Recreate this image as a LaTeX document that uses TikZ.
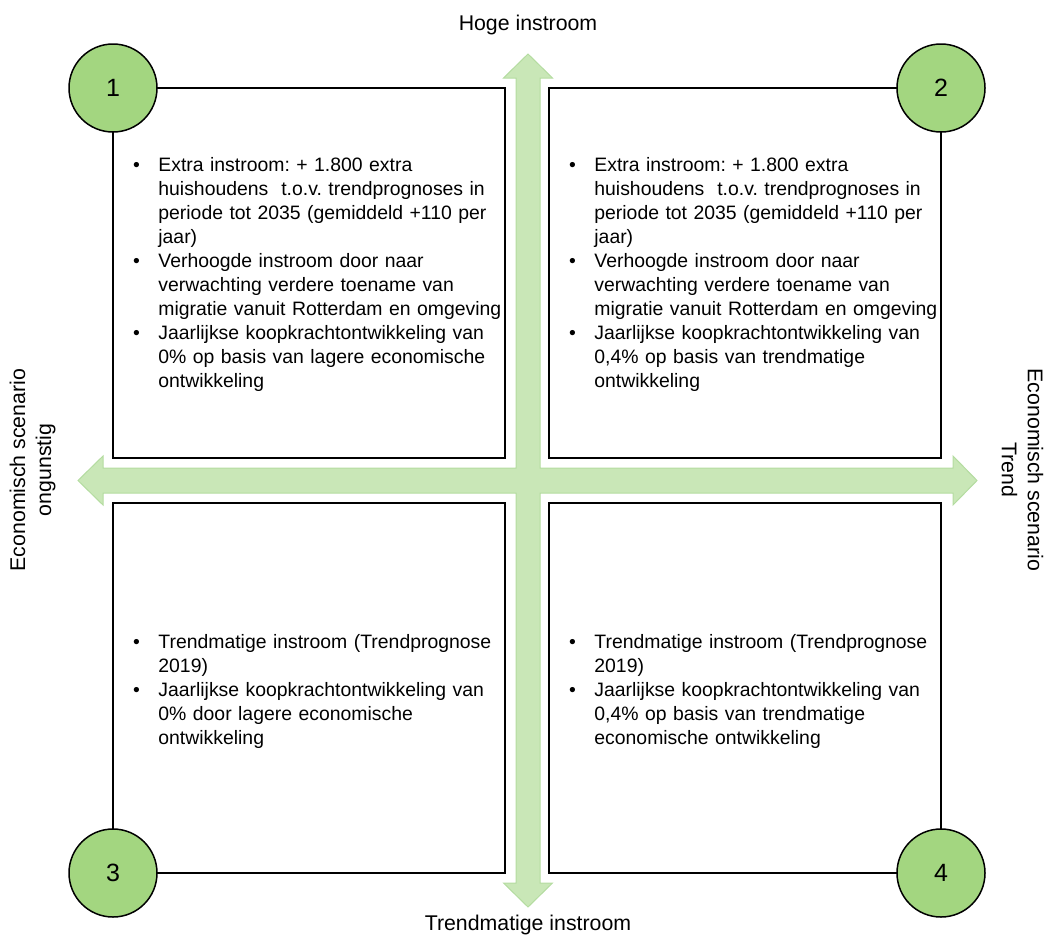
\documentclass[tikz,border=0pt]{standalone}
\usepackage{fontspec}
\setmainfont{Liberation Sans}
\usetikzlibrary{positioning}
\definecolor{crossfill}{HTML}{C9E7B7}
\definecolor{crossline}{HTML}{B4DCA0}
\definecolor{numfill}{HTML}{A3D680}
\newcommand{\bul}{\leavevmode\llap{\textbullet\hspace{18.5pt}}}
\frenchspacing

\begin{document}
\begin{tikzpicture}[x=1pt,y=-1pt,thick]
\tikzstyle{quad} = [draw,fill=white,shape=rectangle,line width=1.5pt,minimum width=392pt,minimum height=370pt,inner sep=0pt,outer sep=0pt]
\tikzstyle{num} = [draw,fill=numfill,shape=circle,line width=1.5pt,minimum size=88pt,inner sep=0pt,font=\fontsize{25}{30}\selectfont]
\tikzstyle{txt} = [anchor=base west,text width=390pt,align=left,inner sep=0pt,font=\fontsize{19.4}{24}\selectfont]
\tikzstyle{axis} = [font=\fontsize{21.3}{26}\selectfont,align=center,inner sep=0pt]
\useasboundingbox (0,0) rectangle (1046,935);

% the cross of block arrows
\filldraw[fill=crossfill,draw=crossline,line width=1pt]
  (528,54) -- (552.5,78) -- (540,78) -- (540,468) -- (953,468) -- (953,456)
  -- (977,480.5) -- (953,505) -- (953,493) -- (540,493) -- (540,883)
  -- (552.5,883) -- (528,907) -- (503.5,883) -- (516,883) -- (516,493)
  -- (103,493) -- (103,505) -- (78,480.5) -- (103,456) -- (103,468)
  -- (516,468) -- (516,78) -- (503.5,78) -- cycle;

\node[quad] (q1) at (309,273) {};
\node[quad,right=44pt of q1] (q2) {};
\node[quad,below=45pt of q1] (q3) {};
\node[quad,right=44pt of q3] (q4) {};

\node[num] (n1) at (q1.north west) {1};
\node[num] (n2) at (q2.north east) {2};
\node[num] (n3) at (q3.south west) {3};
\node[num] (n4) at (q4.south east) {4};

\node[txt] (t1) at ([xshift=45pt,yshift=-83pt]q1.north west) {%
\bul Extra instroom: + 1.800 extra\\
huishoudens\ \ t.o.v. trendprognoses in\\
periode tot 2035 (gemiddeld +110 per\\
jaar)\\
\bul Verhoogde instroom door naar\\
verwachting verdere toename van\\
migratie vanuit Rotterdam en omgeving\\
\bul Jaarlijkse koopkrachtontwikkeling van\\
0\% op basis van lagere economische\\
ontwikkeling};
\node[txt] (t2) at ([xshift=45pt,yshift=-83pt]q2.north west) {%
\bul Extra instroom: + 1.800 extra\\
huishoudens\ \ t.o.v. trendprognoses in\\
periode tot 2035 (gemiddeld +110 per\\
jaar)\\
\bul Verhoogde instroom door naar\\
verwachting verdere toename van\\
migratie vanuit Rotterdam en omgeving\\
\bul Jaarlijkse koopkrachtontwikkeling van\\
0,4\% op basis van trendmatige\\
ontwikkeling};
\node[txt] (t3) at ([xshift=45pt,yshift=-145pt]q3.north west) {%
\bul Trendmatige instroom (Trendprognose\\
2019)\\
\bul Jaarlijkse koopkrachtontwikkeling van\\
0\% door lagere economische\\
ontwikkeling};
\node[txt] (t4) at ([xshift=45pt,yshift=-145pt]q4.north west) {%
\bul Trendmatige instroom (Trendprognose\\
2019)\\
\bul Jaarlijkse koopkrachtontwikkeling van\\
0,4\% op basis van trendmatige\\
economische ontwikkeling};

\node[axis,anchor=base] (hoog) at (528,30) {Hoge instroom};
\node[axis,anchor=base] (trend) at (528,930) {Trendmatige instroom};
\node[axis,rotate=90] (links) at (32.5,470) {Economisch scenario\\ongunstig};
\node[axis,rotate=-90] (rechts) at (1022.5,470) {Economisch scenario\\Trend};
\end{tikzpicture}
\end{document}
